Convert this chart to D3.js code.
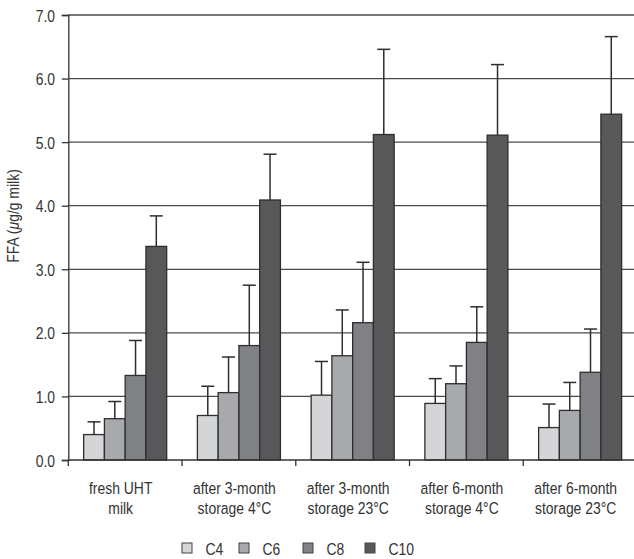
<!DOCTYPE html>
<html>
<head>
<meta charset="utf-8">
<script src="https://cdn.jsdelivr.net/npm/d3@7"></script>
<style>
  html, body { margin: 0; padding: 0; background: #fff; }
  svg { display: block; font-family: "Liberation Sans", Arial, sans-serif; }
</style>
</head>
<body>
<svg id="chart" width="634" height="559"></svg>
<script>
// Sample groups (each label is split over two lines)
const categories = ["fresh", "s3m4", "s3m23", "s6m4", "s6m23"];
const categoryLines = [
  ["fresh UHT", "milk"],
  ["after 3-month", "storage 4°C"],
  ["after 3-month", "storage 23°C"],
  ["after 6-month", "storage 4°C"],
  ["after 6-month", "storage 23°C"]
];

// Free fatty acids, µg/g milk (mean and standard deviation)
const series = ["C4", "C6", "C8", "C10"];
const c4 = [0.40, 0.70, 1.02, 0.89, 0.51];
const c6 = [0.65, 1.06, 1.64, 1.20, 0.78];
const c8 = [1.33, 1.80, 2.16, 1.85, 1.38];
const c10 = [3.36, 4.09, 5.12, 5.11, 5.44];
const c4Sd = [0.20, 0.46, 0.53, 0.39, 0.37];
const c6Sd = [0.27, 0.56, 0.72, 0.28, 0.44];
const c8Sd = [0.55, 0.95, 0.95, 0.56, 0.68];
const c10Sd = [0.48, 0.72, 1.34, 1.11, 1.22];

const yTicks = [0, 1, 2, 3, 4, 5, 6, 7];
const seriesColors = ["#d4d5d7", "#a8a9ac", "#808184", "#575859"];

const means = { C4: c4, C6: c6, C8: c8, C10: c10 };
const sds = { C4: c4Sd, C6: c6Sd, C8: c8Sd, C10: c10Sd };

const rows = [];
categories.forEach((cat, i) => {
  series.forEach(s => rows.push({ cat, s, v: means[s][i], sd: sds[s][i] }));
});

// Condensed lettering: horizontally squeezed sans-serif
const NARROW = 0.82;
const FONT_SIZE = "17px";
const textColor = "#333";

const svg = d3.select("#chart");
const plotLeft = 68.3, plotRight = 637, plotTop = 15, plotBottom = 460;

const x = d3.scaleBand().domain(categories).range([plotLeft, plotRight]).paddingInner(0).paddingOuter(0);
const xs = d3.scaleBand().domain(series).range([0, x.bandwidth()]).paddingInner(0).paddingOuter(0.74);
const y = d3.scaleLinear().domain([0, 7]).range([plotBottom, plotTop]);
const color = d3.scaleOrdinal().domain(series).range(seriesColors);

function narrowText(parent, px, py, anchor, str) {
  return parent.append("text")
    .attr("transform", `translate(${px},${py}) scale(${NARROW},1)`)
    .attr("text-anchor", anchor)
    .attr("fill", textColor)
    .style("font-size", FONT_SIZE)
    .text(str);
}

// Horizontal gridlines
svg.append("g")
  .selectAll("line")
  .data(yTicks.filter(t => t > 0))
  .join("line")
  .attr("x1", plotLeft).attr("x2", plotRight)
  .attr("y1", d => y(d)).attr("y2", d => y(d))
  .attr("stroke", "#4a4a4a").attr("stroke-width", 1.3);

// Y axis
const yAxis = svg.append("g")
  .attr("transform", `translate(${plotLeft},0)`)
  .call(d3.axisLeft(y).tickValues(yTicks).tickFormat(d3.format(".1f")).tickSize(6.5).tickPadding(6.5));
yAxis.attr("font-family", null).attr("font-size", null);
yAxis.select(".domain").attr("stroke", "#333").attr("stroke-width", 1.3);
yAxis.selectAll(".tick line").attr("stroke", "#333").attr("stroke-width", 1.3);
yAxis.selectAll(".tick text")
  .attr("x", 0)
  .attr("transform", `translate(-13.2,0) scale(${NARROW},1)`)
  .attr("fill", textColor)
  .style("font-size", FONT_SIZE)
  .attr("dy", "0.36em");

// Bars
svg.append("g")
  .selectAll("rect")
  .data(rows)
  .join("rect")
  .attr("x", d => x(d.cat) + xs(d.s))
  .attr("y", d => y(d.v))
  .attr("width", xs.bandwidth())
  .attr("height", d => y(0) - y(d.v))
  .attr("fill", d => color(d.s))
  .attr("stroke", "#2e2e2e")
  .attr("stroke-width", 1.3);

// Error bars (upper half only)
const err = svg.append("g").attr("stroke", "#2e2e2e").attr("stroke-width", 1.5);
err.selectAll("line.stem")
  .data(rows)
  .join("line")
  .attr("class", "stem")
  .attr("x1", d => x(d.cat) + xs(d.s) + xs.bandwidth() / 2)
  .attr("x2", d => x(d.cat) + xs(d.s) + xs.bandwidth() / 2)
  .attr("y1", d => y(d.v))
  .attr("y2", d => y(d.v + d.sd));
err.selectAll("line.cap")
  .data(rows)
  .join("line")
  .attr("class", "cap")
  .attr("x1", d => x(d.cat) + xs(d.s) + xs.bandwidth() / 2 - 6.5)
  .attr("x2", d => x(d.cat) + xs(d.s) + xs.bandwidth() / 2 + 6.5)
  .attr("y1", d => y(d.v + d.sd))
  .attr("y2", d => y(d.v + d.sd));

// X axis baseline with ticks at group boundaries
const xAxis = svg.append("g").attr("transform", `translate(0,${plotBottom})`);
xAxis.append("line")
  .attr("x1", plotLeft).attr("x2", plotRight)
  .attr("stroke", "#333").attr("stroke-width", 1.3);
xAxis.selectAll("line.tick")
  .data(categories)
  .join("line")
  .attr("class", "tick")
  .attr("x1", d => x(d)).attr("x2", d => x(d))
  .attr("y1", 0).attr("y2", 6)
  .attr("stroke", "#333").attr("stroke-width", 1.3);

// Group labels
const labels = svg.append("g");
categories.forEach((cat, i) => {
  categoryLines[i].forEach((line, j) => {
    narrowText(labels, x(cat) + x.bandwidth() / 2 - 4.5, 493.5 + j * 20.5, "middle", line);
  });
});

// Y axis title
const yTitle = svg.append("text")
  .attr("transform", `translate(18.5,216) rotate(-90) scale(${NARROW},1)`)
  .attr("text-anchor", "middle")
  .attr("fill", textColor)
  .style("font-size", FONT_SIZE);
yTitle.append("tspan").text("FFA (");
yTitle.append("tspan").style("font-style", "italic").text("μ");
yTitle.append("tspan").text("g/g milk)");

// Legend
const legendX = [182, 239, 303, 365];
const legend = svg.append("g")
  .selectAll("g")
  .data(series)
  .join("g")
  .attr("transform", (d, i) => `translate(${legendX[i]},543)`);
legend.append("rect")
  .attr("width", 10).attr("height", 10)
  .attr("fill", d => color(d))
  .attr("stroke", "#444").attr("stroke-width", 1);
legend.each(function (d) {
  narrowText(d3.select(this), 23.5, 11.5, "start", d);
});
</script>
</body>
</html>
